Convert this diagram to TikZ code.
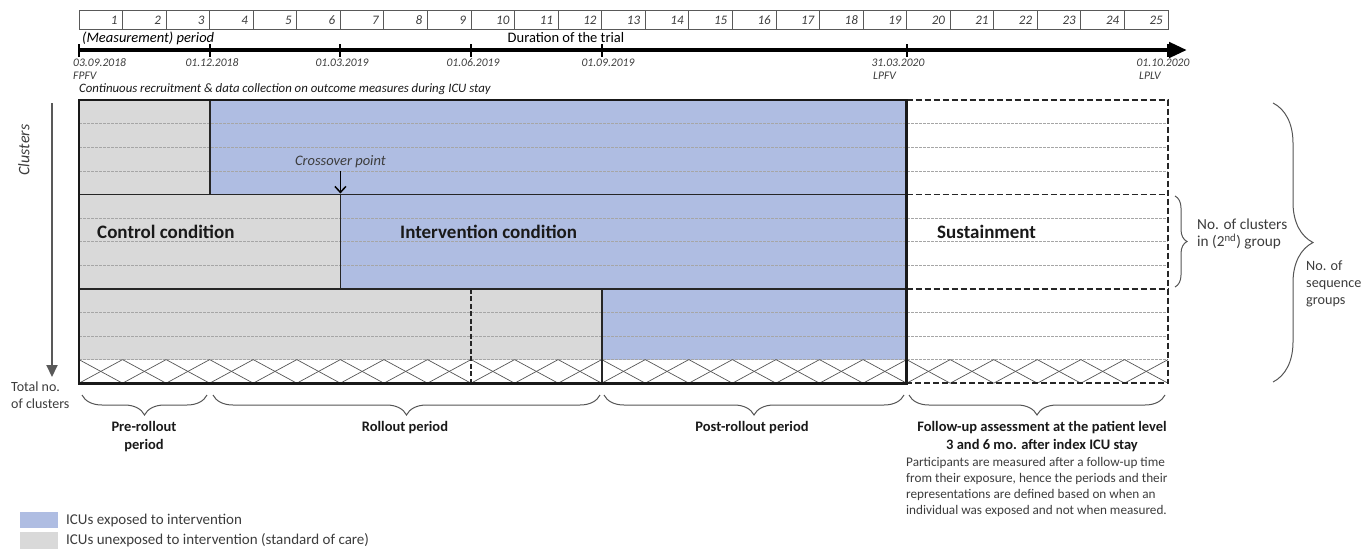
\documentclass[tikz,border=0pt]{standalone}
\usepackage{fontspec}
\setmainfont{Carlito}
\usetikzlibrary{arrows.meta,decorations.pathreplacing}
\definecolor{iblue}{RGB}{175,189,226}
\definecolor{igray}{RGB}{217,217,217}
\definecolor{txtgray}{RGB}{60,60,60}
\definecolor{linegray}{RGB}{85,85,85}
\tikzset{
  num/.style={font=\fontsize{13}{14}\selectfont\itshape, anchor=east, inner sep=0pt, text=txtgray},
  datelbl/.style={font=\fontsize{11.6}{12}\selectfont\itshape, inner sep=0pt, text=txtgray},
  toplbl/.style={font=\fontsize{14.5}{15}\selectfont, inner sep=0pt},
  cond/.style={font=\fontsize{19}{20}\selectfont\bfseries, anchor=west, inner sep=0pt, text=black!90},
  bracelbl/.style={font=\fontsize{14.5}{18.5}\selectfont\bfseries, align=center, inner sep=0pt, text=black!90},
  sidelbl/.style={font=\fontsize{15.3}{17}\selectfont, align=left, inner sep=0pt, anchor=west, text=txtgray},
  rowline/.style={draw=black!35, line width=0.6pt, dash pattern=on 2.5pt off 1.5pt},
  hatchline/.style={draw=linegray, line width=0.7pt},
  solidsep/.style={draw=black!85, line width=1.6pt},
  sdash/.style={draw=black!85, line width=1.8pt, dash pattern=on 6pt off 3pt},
  bracedeco/.style={draw=linegray, line width=1pt, decorate, decoration={brace, amplitude=#1}},
  mbracedeco/.style={draw=linegray, line width=1pt, decorate, decoration={brace, mirror, amplitude=#1}},
  legtxt/.style={anchor=west, inner sep=0pt, font=\fontsize{15}{15}\selectfont, text=txtgray}
}
\begin{document}
\begin{tikzpicture}[x=1pt,y=-1pt]
\useasboundingbox (0,0) rectangle (1363,549);
\def\cw{43.56}
% ---- top cells
\draw[draw=black!65, line width=0.9pt] (79,10) rectangle (1168,29.5);
\foreach \k in {1,...,24} { \draw[draw=black!65, line width=0.9pt] ({79+\k*\cw},10) -- ({79+\k*\cw},29.5); }
\foreach \k in {1,...,25} { \node[num] (n\k) at ({79+\k*\cw-5},20) {\k}; }
\node[toplbl, anchor=west, font=\fontsize{14.5}{15}\selectfont\itshape] (mp) at (82,38) {(Measurement) period};
\node[toplbl] (dur) at (566,37.5) {Duration of the trial};
% ---- timeline
\coordinate (tlstart) at (79,50);
\coordinate (tlend) at (1187,50);
\draw[line width=4.5pt, -{Triangle[length=18pt,width=15pt]}] (tlstart) -- (tlend);
\foreach \x in {79,209.7,340.4,471,601.7,906.6,1168} { \draw[line width=2pt] (\x,44) -- (\x,57); }
\node[datelbl, anchor=west] (d1) at (73,63) {03.09.2018};
\node[datelbl, anchor=west] (d1b) at (73,75.5) {FPFV};
\node[datelbl] (d2) at (212,63) {01.12.2018};
\node[datelbl] (d3) at (342,63) {01.03.2019};
\node[datelbl] (d4) at (473,63) {01.06.2019};
\node[datelbl] (d5) at (608,63) {01.09.2019};
\node[datelbl] (d6) at (898,63) {31.03.2020};
\node[datelbl, anchor=west] (d6b) at (873,75.5) {LPFV};
\node[datelbl] (d7) at (1163,63) {01.10.2020};
\node[datelbl, anchor=west] (d7b) at (1139,75.5) {LPLV};
\node[anchor=west, inner sep=0pt, font=\fontsize{12.8}{13}\selectfont\itshape, text=black!90] (cont) at (79,89) {Continuous recruitment \& data collection on outcome measures during ICU stay};
% ---- fills
\fill[igray] (79,100) rectangle (209.7,194.4);
\fill[iblue] (209.7,100) rectangle (906.6,194.4);
\fill[igray] (79,194.4) rectangle (340.4,288.8);
\fill[iblue] (340.4,194.4) rectangle (906.6,288.8);
\fill[igray] (79,288.8) rectangle (601.7,359.6);
\fill[iblue] (601.7,288.8) rectangle (906.6,359.6);
% ---- row lines
\foreach \i in {1,2,3,5,6,7,9,10,11} { \draw[rowline] (79,{100+\i*23.6}) -- (1168,{100+\i*23.6}); }
% ---- hatch
\foreach \k in {0,...,24} {
  \draw[hatchline] ({79+\k*\cw},359.6) -- ({79+(\k+1)*\cw},383.2);
  \draw[hatchline] ({79+\k*\cw},383.2) -- ({79+(\k+1)*\cw},359.6);
}
% ---- separators
\draw[solidsep] (79,194.4) -- (906.6,194.4);
\draw[solidsep] (79,288.8) -- (906.6,288.8);
\draw[solidsep] (209.7,100) -- (209.7,194.4);
\draw[solidsep] (340.4,194.4) -- (340.4,288.8);
\draw[solidsep] (601.7,288.8) -- (601.7,383.2);
\draw[draw=black!85, line width=1.4pt, dash pattern=on 5pt off 2.5pt] (471,288.8) -- (471,383.2);
\draw[sdash] (906.6,100) -- (1168,100) -- (1168,383.2) -- (906.6,383.2);
\draw[sdash] (906.6,194.4) -- (1168,194.4);
\draw[sdash] (906.6,288.8) -- (1168,288.8);
\draw[draw=black!90, line width=2.6pt] (79,100) rectangle (906.6,383.2);
% ---- crossover
\node[inner sep=0pt, font=\fontsize{14.5}{15}\selectfont\itshape, text=txtgray] (cross) at (340.4,162) {Crossover point};
\coordinate (crosspt) at (340.4,193.5);
\draw[line width=1.5pt, -{Straight Barb[length=6pt,width=11pt]}] (cross.south |- 0,171) -- (crosspt);
% ---- condition labels
\node[cond] (ctrl) at (97,232) {Control condition};
\node[cond] (intv) at (400,232) {Intervention condition};
\node[cond] (sust) at (937,232) {Sustainment};
% ---- left axis
\node[rotate=90, inner sep=0pt, font=\fontsize{16}{17}\selectfont\itshape, text=txtgray] (clu) at (24,150) {Clusters};
\coordinate (ax1) at (52,103);
\coordinate (ax2) at (52,377);
\draw[draw=black!65, line width=2pt, -{Triangle[length=12pt,width=11pt]}] (ax1) -- (ax2);
\node[sidelbl, anchor=north west, font=\fontsize{14}{17}\selectfont] (tot) at (11,382) {Total no.\\of clusters};
% ---- right braces
\coordinate (rb1) at (1175,196);
\coordinate (rb2) at (1175,287);
\draw[bracedeco=12pt] (rb1) -- (rb2);
\node[sidelbl, anchor=north west] (ncl) at (1197,219) {No. of clusters\\in (2\textsuperscript{nd}) group};
\coordinate (bb1) at (1273,103);
\coordinate (bb2) at (1273,382);
\draw[bracedeco=40pt] (bb1) -- (bb2);
\node[sidelbl, anchor=north west, font=\fontsize{14.2}{17}\selectfont] (nseq) at (1306,261) {No. of\\sequence\\groups};
% ---- bottom braces
\coordinate (p1a) at (82,395); \coordinate (p1b) at (207,395);
\coordinate (p2a) at (213,395); \coordinate (p2b) at (600,395);
\coordinate (p3a) at (604,395); \coordinate (p3b) at (904,395);
\coordinate (p4a) at (909,395); \coordinate (p4b) at (1165,395);
\draw[mbracedeco=20pt] (p1a) -- (p1b);
\draw[mbracedeco=20pt] (p2a) -- (p2b);
\draw[mbracedeco=20pt] (p3a) -- (p3b);
\draw[mbracedeco=20pt] (p4a) -- (p4b);
\node[bracelbl, anchor=north] (pre) at (144,421) {Pre-rollout\\period};
\node[bracelbl, anchor=north] (roll) at (405,421) {Rollout period};
\node[bracelbl, anchor=north] (post) at (752,421) {Post-rollout period};
\node[bracelbl, anchor=north] (fu) at (1042,421) {Follow-up assessment at the patient level\\3 and 6 mo. after index ICU stay};
\node[anchor=north west, inner sep=0pt, align=left, font=\fontsize{13.2}{16}\selectfont, text=txtgray] (para) at (906,457) {Participants are measured after a follow-up time\\from their exposure, hence the periods and their\\representations are defined based on when an\\individual was exposed and not when measured.};
% ---- legend
\fill[iblue] (20,512) rectangle (58,528);
\fill[igray] (20,532) rectangle (58,549);
\node[legtxt] (lg1) at (66,520) {ICUs exposed to intervention};
\node[legtxt] (lg2) at (66,540) {ICUs unexposed to intervention (standard of care)};
\end{tikzpicture}
\end{document}
